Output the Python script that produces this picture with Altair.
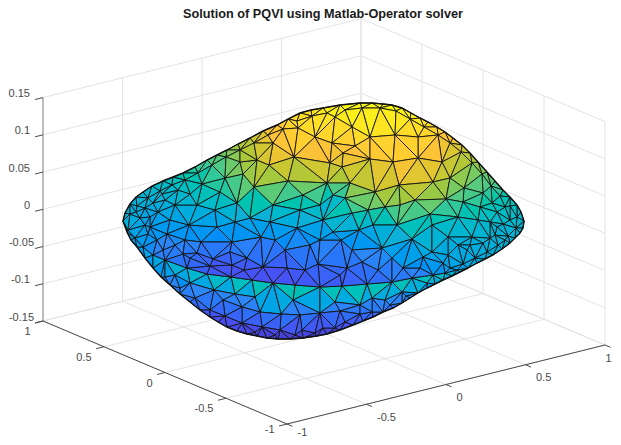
import altair as alt
import pandas as pd

TITLE = "Solution of PQVI using Matlab-Operator solver"
x_ticks = [-1, -0.5, 0, 0.5, 1]
y_ticks = [-1, -0.5, 0, 0.5, 1]
z_ticks = [-0.15, -0.1, -0.05, 0, 0.05, 0.1, 0.15]
x_labels = ["-1", "-0.5", "0", "0.5", "1"]
y_labels = ["-1", "-0.5", "0", "0.5", "1"]
z_labels = ["-0.15", "-0.1", "-0.05", "0", "0.05", "0.1", "0.15"]
z_label_nudge = [4, 0, 4, 0, 0, 0, 0]
x_label_nudge_h = [0, 0, 0, 0, -10]
x_label_nudge_v = [-5, 0, 0, 0, 0]
y_label_nudge_v = [-5, 0, 0, 0, 0]
parula = ["#3E26A8", "#4850F4", "#2D87F7", "#12B1D6", "#37C897", "#ABC739", "#FEC338", "#F9FB14"]

# surface vertices in view-plane units: (horizontal, vertical, colour level)
rim_back = [(123,221,42),(125,213,42),(130,204,42),(136,197,43),(143,192,44),(152,186,47),(163,181,49),(173,177,52),
 (183,173,55),(195,167,57),(207,160,60),(217,155,64),(227,150,68),(238,144,72),(250,138,75),(263,131,82),(277,125,88),
 (288,119,91),(300,113,93),(311,110,95),(323,108,97),(340,105,99),(360,103,100),(372,103,100),(383,104,100),(392,105,100),
 (402,108,100),(411,113,98),(420,118,96),(428,122,94),(437,127,92),(445,132,88),(453,138,84),(462,145,79),(470,153,75),
 (478,162,70),(487,172,66),(495,181,62),(503,190,57),(510,197,53),(517,205,50),(521,212,47),(524,221,45),(523,228,44),
 (520,233,43),(515,238,42),(510,243,42),(502,249,42),(493,255,42),(485,259,41),(477,263,40),(468,268,38)]
lip_top = [(457,270,34),(445,273,30),(433,275,27),(412,278,24),(392,282,21),(367,284,18),(342,286,17),(320,287,16),
 (295,285,15),(273,283,15),(252,280,15),(231,277,15),(207,274,16),(187,268,20),(165,260,25),(153,255,28),(143,247,32),
 (135,238,36),(128,230,40)]
ring_back = [(130,214,43),(137,206,42),(148,198,44),(160,191,46),(172,185,48),(185,180,52),(198,173,54),(212,165,58),
 (226,157,62),(240,150,70),(254,143,76),(268,135,84),(283,129,88),(297,121,92),(312,116,94),(327,113,96),(345,110,98),
 (362,108,99),(380,108,100),(396,111,99),(410,119,96),(424,127,93),(438,135,88),(450,143,82),(461,152,76),(472,163,70),
 (482,174,64),(491,186,58),(500,196,54),(510,206,50),(517,217,47),(516,228,45),(508,236,43),(498,245,42),(487,252,41),
 (475,258,40),(463,264,38),(450,268,36)]
lobes = [(140,218,38),(136,212,41),(145,208,40),(158,212,38),(165,200,43),(148,234,34),(157,240,30),(175,245,27),
 (150,227,34),(505,240,43),(495,235,43),(483,243,42),(470,245,41),(458,245,40),(503,224,45),(510,220,46),(490,222,46),
 (505,207,49),(492,203,52)]
near_lip = [(340,275,18),(305,270,18),(210,266,17),(378,270,24),(420,268,30),(244,270,15),(190,258,22)]
inner_left = [(150,217,36),(170,220,36),(189,225,35),(217,227,34),(145,225,35),(167,234,32),(185,240,30),(201,242,29),
 (232,242,28),(261,237,31),(250,218,38),(297,228,36),(323,220,42),(163,250,25),(183,254,24),(197,253,22),(213,259,17),
 (247,258,21),(285,250,25),(318,264,21),(263,267,14),(287,268,15),(232,265,14),(153,203,41),(175,205,42),(197,205,46),
 (215,210,42),(237,203,52),(220,192,55),(202,184,52),(178,190,47),(162,194,44),(190,194,48),(243,174,66),(254,187,68),
 (269,165,78),(294,157,85),(273,143,85),(298,128,92),(315,137,90),(288,181,66),(303,195,58),(273,205,52),(225,178,60),
 (257,160,74),(240,162,70),(235,222,38),(270,222,38),(300,210,50),(275,240,30),(310,245,28),(230,252,24)]
inner_right = [(335,117,96),(352,127,95),(370,137,92),(395,135,91),(418,137,90),(332,143,86),(355,146,88),(343,153,85),
 (370,159,84),(393,162,86),(418,158,88),(442,162,80),(330,163,80),(342,167,78),(433,182,76),(399,185,78),(350,183,70),
 (375,192,72),(327,183,68),(450,178,72),(464,188,62),(483,193,58),(415,200,70),(446,199,62),(463,202,58),(480,207,54),
 (430,214,58),(400,205,64),(368,210,60),(385,207,62),(352,213,56),(458,217,50),(478,220,48),(497,212,50),(341,240,30),
 (359,230,38),(373,225,42),(397,225,50),(382,248,34),(412,239,44),(352,250,28),(362,262,24),(347,268,20),(403,268,28),
 (423,257,36),(448,237,42),(432,225,50),(497,227,44),(472,237,43),(490,238,43),(467,250,40),(448,255,39),(432,252,38),
 (443,263,37),(392,258,30),(333,195,42),(320,205,50),(345,198,60),(333,232,36),(320,240,30)]
sil_bottom = [(123,221,42),(127,232,36),(131,240,35),(137,247,34),(145,258,30),(153,268,28),(161,277,27),(170,285,25),
 (180,294,23),(190,302,20),(200,310,17),(210,317,14),(218,322,13),(227,327,12),(237,331,11),(247,334,10),(257,336,9),
 (267,338,8),(278,339,7),(290,339,7),(303,338,8),(317,336,9),(327,334,10),(340,330,12),(353,325,14),(363,321,16),
 (373,317,18),(383,312,20),(393,308,22),(402,303,25),(410,298,28),(418,293,31),(427,288,34),(435,284,36),(443,280,37),
 (452,276,38),(460,272,38),(468,268,38)]
lip_under = [(457,270,46),(445,273,50),(433,275,54),(412,278,58),(392,282,60),(367,284,62),(342,286,62),(320,287,62),
 (295,285,62),(273,283,62),(252,280,62),(231,277,58),(207,274,54),(187,268,50),(165,260,46),(153,255,42),(143,247,38),
 (135,238,38),(128,230,40)]
under_row_a = [(175,275,34),(190,283,32),(214,290,30),(235,294,30),(255,297,30),(293,300,30),(335,302,30),(372,298,32),
 (402,292,34),(427,283,38)]
under_row_b = [(165,277,28),(180,288,28),(195,298,24),(223,300,26),(242,307,26),(260,312,24),(281,314,26),
 (300,315,26),(320,313,24),(340,311,25),(360,305,28),(385,300,30),(406,296,28)]
under_row_c = [(210,310,18),(225,316,14),(242,323,15),(262,327,15),(280,330,13),(302,330,15),(323,328,15),(345,322,18),
 (360,314,20),(372,312,22),(390,305,24)]
under_row_d = [(255,332,9),(275,335,8),(295,335,8),(315,333,9),(335,328,11)]

# box geometry: where the axis frame sits in the view plane
ORIGIN_H, ORIGIN_V = 324.0, 221.3
X_H, X_V = 159.0, -39.5
Y_H, Y_V = -122.0, -51.5
Z_V = -744.7


def project(x, y, z):
    return ORIGIN_H + X_H * x + Y_H * y, ORIGIN_V + X_V * x + Y_V * y + Z_V * z


def circum(a, b, c):
    d = 2 * (a[0] * (b[1] - c[1]) + b[0] * (c[1] - a[1]) + c[0] * (a[1] - b[1]))
    if abs(d) < 1e-9:
        d = 1e-9
    sa, sb, sc = a[0]**2 + a[1]**2, b[0]**2 + b[1]**2, c[0]**2 + c[1]**2
    ux = (sa * (b[1] - c[1]) + sb * (c[1] - a[1]) + sc * (a[1] - b[1])) / d
    uy = (sa * (c[0] - b[0]) + sb * (a[0] - c[0]) + sc * (b[0] - a[0])) / d
    return ux, uy, (a[0] - ux)**2 + (a[1] - uy)**2


def triangulate(points):
    pts = list(points) + [(-5000, -5000, 0), (6000, -5000, 0), (300, 6000, 0)]
    n = len(points)
    tris = {(n, n + 1, n + 2): circum(pts[n], pts[n + 1], pts[n + 2])}
    for i in range(n):
        p = pts[i]
        bad = [t for t, c in tris.items() if (p[0] - c[0])**2 + (p[1] - c[1])**2 < c[2]]
        edges = {}
        for t in bad:
            for e in ((t[0], t[1]), (t[1], t[2]), (t[2], t[0])):
                k = tuple(sorted(e))
                edges[k] = edges.get(k, 0) + 1
            del tris[t]
        for (a, b), cnt in edges.items():
            if cnt == 1:
                t = (a, b, i)
                tris[t] = circum(pts[a], pts[b], pts[i])
    return [t for t in tris if max(t) < n]


def inside(px, py, poly):
    hit = False
    j = len(poly) - 1
    for i in range(len(poly)):
        xi, yi = poly[i][0], poly[i][1]
        xj, yj = poly[j][0], poly[j][1]
        if (yi > py) != (yj > py) and px < (xj - xi) * (py - yi) / (yj - yi) + xi:
            hit = not hit
        j = i
    return hit


def sheet(points, poly, name):
    seen = {}
    for p in points:
        seen.setdefault((p[0], p[1]), p)
    pts = list(seen.values())
    rows = []
    for k, t in enumerate(triangulate(pts)):
        a, b, c = pts[t[0]], pts[t[1]], pts[t[2]]
        if not inside((a[0] + b[0] + c[0]) / 3, (a[1] + b[1] + c[1]) / 3, poly):
            continue
        lvl = (a[2] + b[2] + c[2]) / 3
        for o, q in enumerate((a, b, c, a)):
            rows.append({"h": q[0], "v": q[1], "tri": f"{name}{k}", "o": o, "level": lvl})
    return pd.DataFrame(rows)


top = sheet(rim_back + lip_top + ring_back + lobes + near_lip + inner_left + inner_right, rim_back + lip_top, "t")
under = sheet(sil_bottom + lip_under + under_row_a + under_row_b + under_row_c + under_row_d, sil_bottom + lip_under, "u")

grid_rows, x_axis_rows, z_axis_rows, tick_rows = [], [], [], []


def add(rows, name, *pts):
    for o, p in enumerate(pts):
        h, v = project(*p)
        rows.append({"h": h, "v": v, "line": name, "o": o})


zlo, zhi = z_ticks[0], z_ticks[-1]
for x in x_ticks:
    add(grid_rows, f"fx{x}", (x, -1, zlo), (x, 1, zlo), (x, 1, zhi))
for y in y_ticks:
    add(grid_rows, f"fy{y}", (-1, y, zlo), (1, y, zlo), (1, y, zhi))
for z in z_ticks:
    add(grid_rows, f"wz{z}", (-1, 1, z), (1, 1, z), (1, -1, z))
add(z_axis_rows, "z", (-1, 1, zlo), (-1, 1, zhi))
add(x_axis_rows, "y", (-1, 1, zlo), (-1, -1, zlo))
add(x_axis_rows, "x", (-1, -1, zlo), (1, -1, zlo))
for x in x_ticks:
    add(tick_rows, f"tx{x}", (x, -1, zlo), (x, -1.045, zlo))
for y in y_ticks:
    add(tick_rows, f"ty{y}", (-1, y, zlo), (-1.05, y, zlo))
for z in z_ticks:
    add(tick_rows, f"tz{z}", (-1, 1, z), (-1.05, 1, z))


def label_frame(ticks, labels, pt):
    return pd.DataFrame([dict(zip(("h", "v"), project(*pt(t))), text=s) for t, s in zip(ticks, labels)])


lab_x = label_frame(x_ticks, x_labels, lambda t: (t, -1, zlo))
lab_x["h"] = lab_x["h"] + pd.Series(x_label_nudge_h)
lab_x["v"] = lab_x["v"] + pd.Series(x_label_nudge_v)
lab_y = label_frame(y_ticks, y_labels, lambda t: (-1, t, zlo))
lab_y["v"] = lab_y["v"] + pd.Series(y_label_nudge_v)
lab_z = label_frame(z_ticks, z_labels, lambda t: (-1, 1, t))
lab_z["h"] = lab_z["h"] + pd.Series(z_label_nudge)

X = alt.X("h:Q", axis=None, scale=alt.Scale(domain=[8, 613], nice=False, zero=False))
Y = alt.Y("v:Q", axis=None, scale=alt.Scale(domain=[437, 8], nice=False, zero=False))


def lines(rows, color, width):
    return alt.Chart(pd.DataFrame(rows)).mark_line(color=color, strokeWidth=width, interpolate="linear").encode(
        x=X, y=Y, detail="line:N", order="o:Q")


def mesh(df):
    return alt.Chart(df).mark_line(stroke="#141414", strokeWidth=0.9, strokeJoin="round").encode(
        x=X, y=Y, detail="tri:N", order="o:Q",
        fill=alt.Fill("level:Q", legend=None, scale=alt.Scale(domain=[i * 100 / 7 for i in range(8)], range=parula)))


def outline(pts, name):
    rows = [{"h": p[0], "v": p[1], "line": name, "o": i} for i, p in enumerate(pts)]
    return alt.Chart(pd.DataFrame(rows)).mark_line(color="#111111", strokeWidth=1.4).encode(
        x=X, y=Y, detail="line:N", order="o:Q")


def text(df, align, dx, dy):
    return alt.Chart(df).mark_text(align=align, baseline="middle", dx=dx, dy=dy, font="Liberation Sans",
                                   fontSize=11, color="#4a4a4a").encode(x=X, y=Y, text="text:N")


chart = alt.layer(
    lines(grid_rows, "#E3E3E3", 1),
    lines(z_axis_rows, "#8a8a8a", 1),
    lines(x_axis_rows, "#4a4a4a", 1),
    lines(tick_rows, "#4a4a4a", 1),
    mesh(under),
    mesh(top),
    outline(rim_back, "b"),
    outline(sil_bottom, "s"),
    text(lab_x, "left", 10.5, 13.5),
    text(lab_y, "right", -12.5, 11),
    text(lab_z, "right", -13, -3.5),
).properties(
    width=605, height=429, padding=0, autosize="none",
    title=alt.TitleParams(TITLE, font="Liberation Sans", fontSize=12.7, fontWeight="bold", color="#1a1a1a",
                          anchor="middle", dx=12.5, offset=-13),
).configure_view(stroke=None)

chart.save("out.html", embed_options={"renderer": "svg", "actions": False})
